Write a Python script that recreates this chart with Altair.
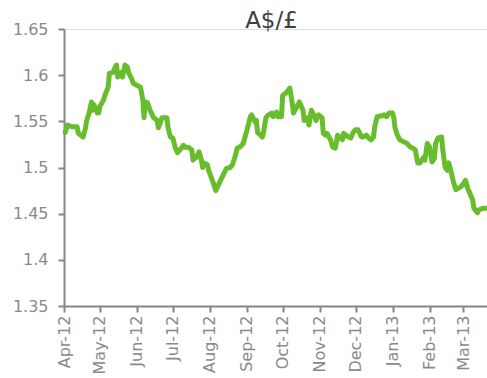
import altair as alt
import pandas as pd

dates = [
    "2012-04-02", "2012-04-04", "2012-04-08", "2012-04-12", "2012-04-13", "2012-04-17", "2012-04-19",
    "2012-04-20", "2012-04-22", "2012-04-24", "2012-04-25", "2012-04-26", "2012-04-29", "2012-04-30",
    "2012-05-01", "2012-05-04", "2012-05-06", "2012-05-08", "2012-05-09", "2012-05-12", "2012-05-14",
    "2012-05-15", "2012-05-16", "2012-05-19", "2012-05-20", "2012-05-22", "2012-05-24", "2012-05-25",
    "2012-05-28", "2012-05-29", "2012-06-01", "2012-06-04", "2012-06-06", "2012-06-07", "2012-06-08",
    "2012-06-10", "2012-06-12", "2012-06-15", "2012-06-18", "2012-06-19", "2012-06-22", "2012-06-26",
    "2012-06-27", "2012-06-29", "2012-07-01", "2012-07-03", "2012-07-05", "2012-07-07", "2012-07-10",
    "2012-07-11", "2012-07-14", "2012-07-17", "2012-07-18", "2012-07-20", "2012-07-21", "2012-07-23",
    "2012-07-25", "2012-07-26", "2012-07-27", "2012-07-30", "2012-07-31", "2012-08-02", "2012-08-04",
    "2012-08-06", "2012-08-10", "2012-08-13", "2012-08-15", "2012-08-18", "2012-08-20", "2012-08-22",
    "2012-08-24", "2012-08-26", "2012-08-29", "2012-09-01", "2012-09-04", "2012-09-05", "2012-09-08",
    "2012-09-09", "2012-09-10", "2012-09-14", "2012-09-15", "2012-09-17", "2012-09-19", "2012-09-22",
    "2012-09-23", "2012-09-26", "2012-09-27", "2012-09-30", "2012-10-01", "2012-10-04", "2012-10-07",
    "2012-10-09", "2012-10-10", "2012-10-13", "2012-10-15", "2012-10-18", "2012-10-19", "2012-10-22",
    "2012-10-23", "2012-10-25", "2012-10-27", "2012-10-29", "2012-10-31", "2012-11-03", "2012-11-04",
    "2012-11-06", "2012-11-07", "2012-11-10", "2012-11-12", "2012-11-14", "2012-11-16", "2012-11-17",
    "2012-11-20", "2012-11-21", "2012-11-23", "2012-11-25", "2012-11-27", "2012-11-29", "2012-12-01",
    "2012-12-03", "2012-12-06", "2012-12-07", "2012-12-10", "2012-12-12", "2012-12-14", "2012-12-16",
    "2012-12-17", "2012-12-19", "2012-12-23", "2012-12-25", "2012-12-27", "2012-12-29", "2013-01-01",
    "2013-01-02", "2013-01-03", "2013-01-05", "2013-01-07", "2013-01-10", "2013-01-13", "2013-01-16",
    "2013-01-18", "2013-01-20", "2013-01-22", "2013-01-24", "2013-01-27", "2013-01-28", "2013-01-30",
    "2013-02-01", "2013-02-03", "2013-02-05", "2013-02-06", "2013-02-08", "2013-02-11", "2013-02-12",
    "2013-02-14", "2013-02-16", "2013-02-17", "2013-02-19", "2013-02-21", "2013-02-23", "2013-02-27",
    "2013-03-01", "2013-03-03", "2013-03-05", "2013-03-09", "2013-03-10", "2013-03-13", "2013-03-14",
    "2013-03-18", "2013-03-20",
]

rates = [
    1.538, 1.546, 1.544, 1.544, 1.537, 1.533, 1.543,
    1.551, 1.559, 1.571, 1.562, 1.568, 1.559, 1.559,
    1.566, 1.573, 1.581, 1.587, 1.602, 1.603, 1.609,
    1.611, 1.598, 1.603, 1.598, 1.611, 1.609, 1.603,
    1.595, 1.591, 1.589, 1.587, 1.573, 1.554, 1.571,
    1.570, 1.562, 1.554, 1.551, 1.543, 1.554, 1.554,
    1.544, 1.533, 1.532, 1.522, 1.516, 1.519, 1.524,
    1.522, 1.522, 1.519, 1.508, 1.511, 1.511, 1.517,
    1.508, 1.500, 1.505, 1.503, 1.497, 1.490, 1.483,
    1.475, 1.486, 1.494, 1.499, 1.500, 1.503, 1.511,
    1.521, 1.522, 1.526, 1.540, 1.555, 1.557, 1.549,
    1.551, 1.538, 1.533, 1.538, 1.554, 1.557, 1.559,
    1.555, 1.560, 1.555, 1.555, 1.578, 1.581, 1.586,
    1.570, 1.559, 1.566, 1.571, 1.562, 1.551, 1.554,
    1.546, 1.562, 1.557, 1.551, 1.557, 1.554, 1.537,
    1.535, 1.537, 1.530, 1.522, 1.521, 1.535, 1.533,
    1.530, 1.537, 1.535, 1.533, 1.532, 1.538, 1.541,
    1.541, 1.533, 1.533, 1.535, 1.532, 1.530, 1.533,
    1.544, 1.555, 1.556, 1.557, 1.555, 1.559, 1.559,
    1.554, 1.543, 1.535, 1.530, 1.528, 1.526, 1.522,
    1.521, 1.519, 1.505, 1.505, 1.511, 1.508, 1.526,
    1.522, 1.506, 1.510, 1.526, 1.532, 1.533, 1.519,
    1.500, 1.497, 1.505, 1.495, 1.484, 1.476, 1.479,
    1.482, 1.486, 1.477, 1.465, 1.456, 1.451, 1.454,
    1.456, 1.456,
]

y_ticks = [1.35, 1.4, 1.45, 1.5, 1.55, 1.6, 1.65]
x_domain = ["2012-04-01", "2013-03-21"]
month_ticks = [
    "2012-04-01", "2012-05-01", "2012-06-01", "2012-07-01", "2012-08-01", "2012-09-01",
    "2012-10-01", "2012-11-01", "2012-12-01", "2013-01-01", "2013-02-01", "2013-03-01",
]

df = pd.DataFrame({"date": dates, "rate": rates})

axis_grey = "#868686"
label_grey = "#8a8a8a"
font = "DejaVu Sans"

chart = (
    alt.Chart(df)
    .mark_line(color="#68bd2c", strokeWidth=5, strokeJoin="round", strokeCap="round")
    .encode(
        x=alt.X(
            "date:T",
            scale=alt.Scale(domain=x_domain),
            axis=alt.Axis(
                values=month_ticks,
                format="%b-%y",
                labelAngle=-90,
                labelAlign="right",
                labelBaseline="middle",
                labelPadding=3,
                labelFontSize=16,
                labelColor=label_grey,
                labelFont=font,
                tickSize=6,
                tickColor=axis_grey,
                tickWidth=2,
                domainColor=axis_grey,
                domainWidth=2,
                grid=False,
                title=None,
                labelOverlap=False,
                labelBound=False,
                labelFlush=False,
            ),
        ),
        y=alt.Y(
            "rate:Q",
            scale=alt.Scale(domain=[1.35, 1.65], nice=False, zero=False),
            axis=alt.Axis(
                values=y_ticks,
                format="~g",
                labelPadding=10,
                labelFontSize=16,
                labelColor=label_grey,
                labelFont=font,
                tickSize=6,
                tickColor=axis_grey,
                tickWidth=2,
                domainColor=axis_grey,
                domainWidth=2,
                grid=False,
                title=None,
                labelOverlap=False,
                labelFlush=False,
            ),
        ),
    )
    .properties(
        width=423,
        height=277,
        title=alt.TitleParams(
            "A$/£",
            fontSize=23,
            font=font,
            fontWeight="normal",
            color="#404040",
            anchor="middle",
            frame="group",
            baseline="alphabetic",
            offset=-1,
            dx=-4,
            dy=29,
        ),
        autosize=alt.AutoSizeParams(type="none"),
        padding={"left": 64, "top": 29, "right": 0, "bottom": 72},
    )
    .configure_view(stroke=None)
    .configure(background="white")
)

chart.save("out.html", embed_options={"renderer": "svg", "actions": False})
